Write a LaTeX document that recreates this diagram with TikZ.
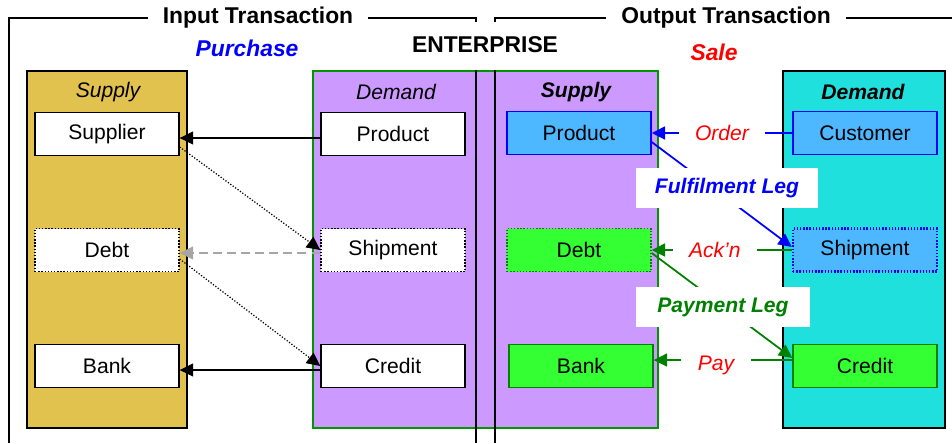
\documentclass[tikz,border=0pt]{standalone}
\usepackage{fontspec}
\setmainfont{Liberation Sans}
\usetikzlibrary{arrows.meta,positioning,calc}
\definecolor{gold}{RGB}{226,194,78}
\definecolor{lilac}{RGB}{204,153,255}
\definecolor{aqua}{RGB}{32,224,222}
\definecolor{sky}{RGB}{77,184,255}
\definecolor{boxgreen}{RGB}{51,255,51}
\definecolor{leaf}{RGB}{0,128,0}
\definecolor{edgegreen}{RGB}{0,150,0}
\tikzstyle{item} = [draw, line width=0.8pt, shape=rectangle, minimum width=2.88cm, minimum height=0.86cm, font=\fontsize{12}{14}\selectfont]
\tikzstyle{Arrow} = [-{Triangle[length=0.27cm,width=0.26cm]}, line width=0.7pt]
\tikzstyle{legbox} = [fill=white, minimum height=0.8cm, font=\fontsize{12}{14}\selectfont\bfseries\itshape]
\tikzstyle{msg} = [fill=white, inner xsep=0.33cm, inner ysep=1pt, text=red, font=\fontsize{12}{14}\selectfont\itshape]
\tikzstyle{title} = [fill=white, inner xsep=0.3cm, font=\fontsize{13}{15}\selectfont\bfseries]
\tikzstyle{head} = [font=\fontsize{12}{14}\selectfont\itshape]
\tikzstyle{boldhead} = [font=\fontsize{12}{14}\selectfont\bfseries\itshape]

\begin{document}
\begin{tikzpicture}[x=0.02cm, y=-0.02cm]
            \useasboundingbox (0,0) rectangle (952,443);
            %%%%% Columns %%%%%
            \draw[line width=0.8pt, fill=gold] (27,71) rectangle (187,428);
            \draw[line width=0.8pt, draw=edgegreen, fill=lilac] (313,71) rectangle (658,428);
            \draw[line width=0.8pt, fill=aqua] (783,71) rectangle (945,428);
            %%%%% Brackets %%%%%
            \draw[line width=0.8pt] (476,22) -- (476,18) -- (9,18) -- (9,443);
            \draw[line width=0.8pt] (495,22) -- (495,18) -- (952,18);
            \draw[line width=0.8pt] (476,70) -- (476,443);
            \draw[line width=0.8pt] (495,70) -- (495,443);
            \node (IT) [title] at (258,18) {Input Transaction};
            \node (OT) [title] at (726,18) {Output Transaction};
            \node (PU) [text=blue, font=\fontsize{13}{15}\selectfont\bfseries\itshape] at (247,48) {Purchase};
            \node (EN) [font=\fontsize{13}{15}\selectfont\bfseries] at (485,45) {ENTERPRISE};
            \node (SA) [text=red, font=\fontsize{13}{15}\selectfont\bfseries\itshape] at (714,52) {Sale};
            \node (H1) [head] at (108,92) {Supply};
            \node (H2) [head] at (396,92) {Demand};
            \node (H3) [boldhead] at (576,92) {Supply};
            \node (H4) [boldhead] at (863,92) {Demand};
            %%%%% Purchase side %%%%%
            \node (Su) [item, fill=white] at (107,134) {Supplier};
            \node (De1) [item, fill=white, densely dotted] at ($(Su)+(0,116)$) {Debt};
            \node (Ba1) [item, fill=white] at ($(Su)+(0,232)$) {Bank};
            \node (Pr1) [item, fill=white] at (393,134) {Product};
            \node (Sh1) [item, fill=white, densely dotted] at ($(Pr1)+(0,116)$) {Shipment};
            \node (Cr1) [item, fill=white] at ($(Pr1)+(0,232)$) {Credit};
            %%%%% Sale side %%%%%
            \node (Pr2) [item, fill=sky, draw=blue] at (579,133) {Product};
            \node (De2) [item, fill=boxgreen, draw=leaf, densely dotted] at ($(Pr2)+(0,117)$) {Debt};
            \node (Ba2) [item, fill=boxgreen, draw=leaf] at ($(Pr2)+(2,233)$) {Bank};
            \node (Cu) [item, fill=sky, draw=blue] at (865,133) {Customer};
            \node (Sh2) [item, fill=sky, draw=blue, densely dotted, line width=1.3pt] at ($(Cu)+(0,117)$) {Shipment};
            \node (Cr2) [item, fill=boxgreen, draw=leaf] at ($(Cu)+(0,233)$) {Credit};
            %%%%% Edges %%%%%
            \draw [Arrow] ($(Pr1.west)+(0,4)$) -- ($(Su.east)+(0,4)$);
            \draw [Arrow, dash pattern=on 5pt off 3pt, gray!70] ($(Sh1.west)+(0,3)$) -- ($(De1.east)+(0,3)$);
            \draw [Arrow, densely dotted] ($(Su.east)+(0,13)$) -- (Sh1.west);
            \draw [Arrow, densely dotted] ($(De1.east)+(0,9)$) -- (Cr1.west);
            \draw [Arrow] ($(Cr1.west)+(0,4)$) -- ($(Ba1.east)+(0,4)$);
            \draw [Arrow, blue, line width=1pt] (Cu.west) -- node[msg] {Order} (Pr2.east);
            \draw [Arrow, blue, line width=1pt] ($(Pr2.east)+(0,9)$) -- ($(Sh2.west)+(0,-3)$);
            \draw [Arrow, leaf, line width=1pt] (Sh2.west) -- node[msg, pos=.55] {Ack'n} (De2.east);
            \draw [Arrow, leaf, line width=1pt] ($(De2.east)+(0,3)$) -- ($(Cr2.west)+(0,-8)$);
            \draw [Arrow, leaf, line width=1pt] ($(Cr2.west)+(0,-6)$) -- node[msg, pos=.55, yshift=-3pt] {Pay} ($(Ba2.east)+(0,-6)$);
            \node (FL) [legbox, text=blue, minimum width=3.66cm] at (727,188) {Fulfilment Leg};
            \node (PL) [legbox, text=leaf, minimum width=3.5cm] at (723,307) {Payment Leg};
\end{tikzpicture}
\end{document}
